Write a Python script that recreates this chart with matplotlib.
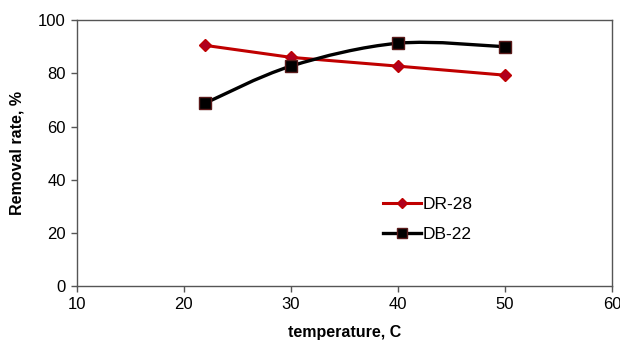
import numpy as np
import matplotlib
matplotlib.use("Agg")
import matplotlib.pyplot as plt
from matplotlib.path import Path
from matplotlib.patches import PathPatch
from matplotlib.lines import Line2D

plt.rcParams['font.family'] = ['Liberation Sans', 'DejaVu Sans']

temperature = [22, 30, 40, 50]
dr28 = [90.5, 86.0, 82.7, 79.3]
db22 = [68.8, 82.7, 91.3, 90.0]
x_ticks = [10, 20, 30, 40, 50, 60]
y_ticks = [0, 20, 40, 60, 80, 100]


def smooth_path(ax, xs, ys, tension=1 / 6):
    """Cubic Bezier path through the points (Catmull-Rom style smoothing)."""
    pts = ax.transData.transform(np.column_stack([xs, ys]))
    n = len(pts)
    verts = [pts[0]]
    codes = [Path.MOVETO]
    for i in range(n - 1):
        p0 = pts[i - 1] if i > 0 else pts[i]
        p1 = pts[i]
        p2 = pts[i + 1]
        p3 = pts[i + 2] if i + 2 < n else pts[i + 1]
        c1 = p1 + (p2 - p0) * tension
        c2 = p2 - (p3 - p1) * tension
        verts += [c1, c2, p2]
        codes += [Path.CURVE4] * 3
    return Path(verts, codes)


fig = plt.figure(figsize=(6.2, 3.41), dpi=100)
ax = fig.add_axes([0.124, 0.161, 0.863, 0.780])
ax.set_xlim(10, 60)
ax.set_ylim(0, 100)

red = '#C00000'
ax.plot(temperature, dr28, color=red, lw=2.2, marker='D', ms=6,
        mfc='#B0001E', mec='#C00000', zorder=3)

fig.canvas.draw()
path = smooth_path(ax, temperature, db22)
ax.add_patch(PathPatch(path, transform=None, fill=False, edgecolor='black',
                       lw=2.4, zorder=3))
ax.plot(temperature, db22, ls='none', marker='s', ms=8, mfc='black',
        mec='#5A1A1A', mew=1, zorder=4)

ax.set_xticks(x_ticks)
ax.set_yticks(y_ticks)
ax.tick_params(direction='out', length=4, width=1, colors='#555555',
               labelcolor='black', labelsize=12, pad=4)
for s in ax.spines.values():
    s.set_color('#555555')
    s.set_linewidth(1)

ax.set_xlabel('temperature, C', fontsize=11.5, fontweight='bold', labelpad=9)
ax.set_ylabel('Removal rate, %', fontsize=11.5, fontweight='bold', labelpad=10)

handles = [
    Line2D([], [], color=red, lw=2.2, marker='D', ms=5, mfc='#B0001E', mec=red),
    Line2D([], [], color='black', lw=2.4, marker='s', ms=7, mfc='black', mec='#5A1A1A'),
]
ax.legend(handles, ['DR-28', 'DB-22'], loc='upper left',
          bbox_to_anchor=(0.542, 0.395), frameon=False, fontsize=12.5,
          handlelength=2.2, handletextpad=0.1, labelspacing=0.85)

fig.savefig('out.png', dpi=100)
